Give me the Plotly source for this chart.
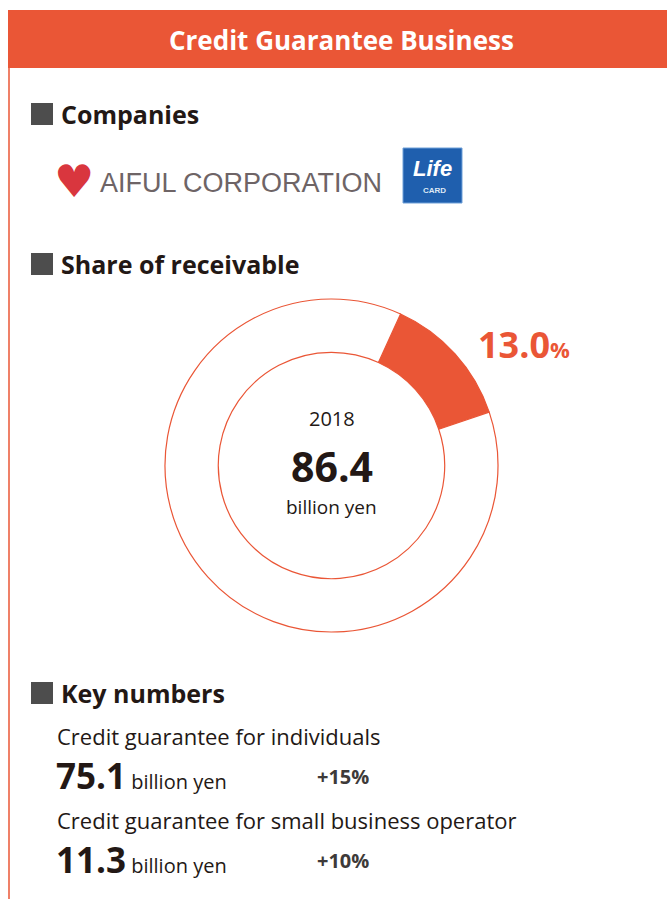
import plotly.graph_objects as go

W, H = 667, 899
ORANGE = "#EA5636"
DARK = "#231815"
GRAY_SQ = "#4D4D4D"

title = "Credit Guarantee Business"
sections = ["Companies", "Share of receivable", "Key numbers"]
companies = ["AIFUL CORPORATION", "Life CARD"]
share_labels = ["Credit Guarantee Business", "Other"]
share_values = [13.0, 87.0]
center_year = "2018"
center_value = "86.4"
unit = "billion yen"
key_labels = ["Credit guarantee for individuals", "Credit guarantee for small business operator"]
key_values = ["75.1", "11.3"]
key_growth = ["+15%", "+10%"]

FONT = "Open Sans"

fig = go.Figure()

# donut
cx, cy, r = 331.5, 465.5, 166.5
fig.add_trace(go.Pie(
    labels=share_labels, values=share_values, hole=0.68, sort=False,
    direction="clockwise", rotation=24.5,
    marker=dict(colors=[ORANGE, "white"], line=dict(color=ORANGE, width=1.2)),
    textinfo="none", hoverinfo="label+percent", showlegend=False,
    domain=dict(x=[(cx - r) / W, (cx + r) / W], y=[1 - (cy + r) / H, 1 - (cy - r) / H]),
))

shapes = []
# header bar
shapes.append(dict(type="rect", xref="x", yref="y", x0=8, x1=667, y0=10, y1=68,
                   fillcolor=ORANGE, line=dict(width=0), layer="below"))
# left border
shapes.append(dict(type="line", xref="x", yref="y", x0=9, x1=9, y0=68, y1=899,
                   line=dict(color=ORANGE, width=1.5)))

ann = []
ann.append(dict(x=341, y=40, text=f"<b>{title}</b>", showarrow=False, xref="x", yref="y",
                font=dict(family=FONT, size=26, color="white"), xanchor="center", yanchor="middle"))

sec_y = [114, 264, 693]
for s, y in zip(sections, sec_y):
    shapes.append(dict(type="rect", xref="x", yref="y", x0=31, x1=53, y0=y - 11, y1=y + 11,
                       fillcolor=GRAY_SQ, line=dict(width=0)))
    ann.append(dict(x=59, y=y, text=f"<b>{s}</b>", showarrow=False, xref="x", yref="y",
                    font=dict(family=FONT, size=25, color=DARK), xanchor="left", yanchor="middle"))

# company logos (drawn)
ann.append(dict(x=74, y=181, text="♥", showarrow=False, xref="x", yref="y",
                font=dict(family="DejaVu Sans", size=45, color="#D9363E"), xanchor="center", yanchor="middle"))
ann.append(dict(x=98, y=183, text=companies[0], showarrow=False, xref="x", yref="y",
                font=dict(family="Liberation Sans", size=27, color="#6E6466"),
                xanchor="left", yanchor="middle"))
shapes.append(dict(type="rect", xref="x", yref="y", x0=403, x1=462, y0=148, y1=203,
                   fillcolor="#1F5FAE", line=dict(color="#6FA0D8", width=1)))
ann.append(dict(x=432, y=168, text="<i><b>Life</b></i>", showarrow=False, xref="x", yref="y",
                font=dict(family="Liberation Sans", size=22, color="white"), xanchor="center", yanchor="middle"))
ann.append(dict(x=434, y=190, text="<b>CARD</b>", showarrow=False, xref="x", yref="y",
                font=dict(family="Liberation Sans", size=8, color="#DDE8F5"), xanchor="center", yanchor="middle"))

# donut labels
ann.append(dict(x=cx, y=418, text=center_year, showarrow=False, xref="x", yref="y",
                font=dict(family=FONT, size=20, color=DARK), xanchor="center", yanchor="middle"))
ann.append(dict(x=cx, y=466, text=f"<b>{center_value}</b>", showarrow=False, xref="x", yref="y",
                font=dict(family=FONT, size=41, color=DARK), xanchor="center", yanchor="middle"))
ann.append(dict(x=cx, y=507, text=unit, showarrow=False, xref="x", yref="y",
                font=dict(family=FONT, size=19, color=DARK), xanchor="center", yanchor="middle"))
ann.append(dict(x=476, y=344, text=f"<b>{share_values[0]:.1f}<span style='font-size:22px'>%</span></b>",
                showarrow=False, xref="x", yref="y",
                font=dict(family=FONT, size=36, color=ORANGE), xanchor="left", yanchor="middle"))

# key numbers
rows_y = [737, 821]
for lab, val, gr, y in zip(key_labels, key_values, key_growth, rows_y):
    ann.append(dict(x=55, y=y - 1, text=lab, showarrow=False, xref="x", yref="y",
                    font=dict(family=FONT, size=22, color=DARK), xanchor="left", yanchor="middle"))
    ann.append(dict(x=54, y=y + 38, text=f"<b>{val}</b><span style='font-size:20px'> billion yen</span>",
                    showarrow=False, xref="x", yref="y",
                    font=dict(family=FONT, size=35, color=DARK), xanchor="left", yanchor="middle"))
    ann.append(dict(x=315, y=y + 39, text=f"<b>{gr}</b>", showarrow=False, xref="x", yref="y",
                    font=dict(family=FONT, size=20, color="#3E3A39"), xanchor="left", yanchor="middle"))

fig.update_layout(
    width=W, height=H, margin=dict(l=0, r=0, t=0, b=0),
    paper_bgcolor="white", plot_bgcolor="white",
    xaxis=dict(range=[0, W], visible=False, fixedrange=True),
    yaxis=dict(range=[H, 0], visible=False, fixedrange=True),
    shapes=shapes, annotations=ann, showlegend=False,
)
fig.write_html("out.html", config={"displayModeBar": False},
               post_script="document.body.style.margin='0';")
